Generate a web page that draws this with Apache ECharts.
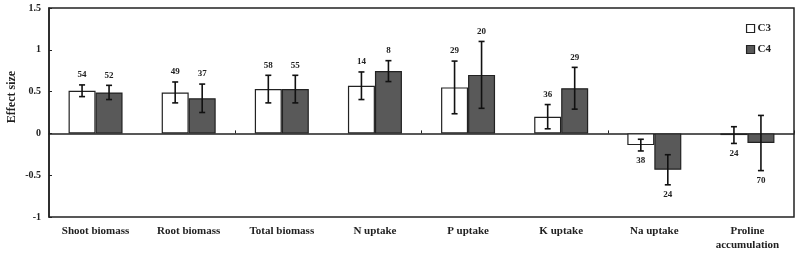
<!DOCTYPE html>
<html>
<head>
<meta charset="utf-8">
<script src="https://cdn.jsdelivr.net/npm/echarts@6/dist/echarts.min.js"></script>
<style>
  html, body { margin: 0; padding: 0; background: #fff; }
  #chart { width: 800px; height: 253px; }
</style>
</head>
<body>
<div id="chart"></div>
<script>
const categories = ['Shoot biomass', 'Root biomass', 'Total biomass', 'N uptake', 'P uptake', 'K uptake', 'Na uptake', 'Proline\naccumulation'];
const c3Values = [0.51, 0.49, 0.53, 0.57, 0.55, 0.20, -0.14, -0.02];
const c3Errors = [0.07, 0.125, 0.165, 0.165, 0.315, 0.145, 0.07, 0.10];
const c3Counts = [54, 49, 58, 14, 29, 36, 38, 24];
const c4Values = [0.49, 0.42, 0.53, 0.745, 0.70, 0.54, -0.435, -0.115];
const c4Errors = [0.085, 0.17, 0.165, 0.125, 0.40, 0.25, 0.18, 0.33];
const c4Counts = [52, 37, 55, 8, 20, 29, 24, 70];
const yTicks = [-1, -0.5, 0, 0.5, 1, 1.5];

const serif = '"Liberation Serif", "DejaVu Serif", serif';
const barW = 27;

// error bar + n label, drawn off the same axes as the bars
const errorSeries = (values, errors, counts, offset) => ({
    type: 'custom',
    xAxisIndex: 0,
    silent: true,
    z: 5,
    data: values.map((v, i) => [i, v, errors[i], counts[i]]),
    renderItem: (params, api) => {
        const i = api.value(0), v = api.value(1), e = api.value(2), n = api.value(3);
        const top = api.coord([i, v + e]);
        const bot = api.coord([i, v - e]);
        const x = top[0] + offset;
        const cap = 3;
        const style = { stroke: '#111', lineWidth: 1.6 };
        const labelY = v >= 0 ? top[1] - 10 : bot[1] + 10;
        return {
            type: 'group',
            children: [
                { type: 'line', shape: { x1: x, y1: top[1], x2: x, y2: bot[1] }, style },
                { type: 'line', shape: { x1: x - cap, y1: top[1], x2: x + cap, y2: top[1] }, style },
                { type: 'line', shape: { x1: x - cap, y1: bot[1], x2: x + cap, y2: bot[1] }, style },
                {
                    type: 'text',
                    style: {
                        x: x, y: labelY, text: String(n),
                        align: 'center', verticalAlign: 'middle',
                        font: 'bold 9px ' + serif, fill: '#222'
                    }
                }
            ]
        };
    }
});

const chart = echarts.init(document.getElementById('chart'));
chart.setOption({
    animation: false,
    grid: { left: 49, right: 6, top: 8, bottom: 36, show: true, borderColor: '#222', borderWidth: 1.5 },
    legend: {
        orient: 'vertical',
        right: 24,
        top: 18,
        icon: 'rect',
        itemWidth: 8,
        itemHeight: 8,
        itemGap: 10,
        itemStyle: { borderColor: '#222', borderWidth: 1.2 },
        textStyle: { fontFamily: serif, fontWeight: 'bold', fontSize: 11, color: '#222', padding: [0, 0, 0, -2] },
        data: ['C3', 'C4']
    },
    graphic: [{
        type: 'text',
        x: 12, y: 97,
        rotation: Math.PI / 2,
        style: { text: 'Effect size', font: 'bold 12px ' + serif, fill: '#222', align: 'center', verticalAlign: 'middle' }
    }],
    xAxis: [{
        type: 'category',
        data: categories,
        position: 'bottom',
        axisLine: { onZero: false, show: false },
        axisTick: { show: false },
        axisLabel: { margin: 7, fontFamily: serif, fontWeight: 'bold', fontSize: 11, color: '#222', lineHeight: 14, interval: 0 }
    }, {
        type: 'category',
        data: categories,
        position: 'bottom',
        axisLine: { onZero: true, lineStyle: { color: '#222', width: 1.5 } },
        axisTick: { show: true, inside: true, length: 3, lineStyle: { color: '#222' } },
        axisLabel: { show: false }
    }],
    yAxis: {
        type: 'value',
        min: -1,
        max: 1.5,
        interval: 0.5,
        splitLine: { show: false },
        axisLine: { show: true, lineStyle: { color: '#222', width: 1.5 } },
        axisTick: { show: true, inside: true, length: 3, lineStyle: { color: '#222' } },
        axisLabel: {
            margin: 8,
            fontFamily: serif, fontWeight: 'bold', fontSize: 10, color: '#222',
            formatter: v => yTicks.includes(v) ? String(v) : ''
        }
    },
    series: [
        {
            name: 'C3', type: 'bar', data: c3Values, barWidth: barW, barGap: '0%',
            itemStyle: { color: '#ffffff', borderColor: '#222', borderWidth: 1.2 }
        },
        {
            name: 'C4', type: 'bar', data: c4Values, barWidth: barW, barGap: '0%',
            itemStyle: { color: '#595959', borderColor: '#222', borderWidth: 1.2 }
        },
        errorSeries(c3Values, c3Errors, c3Counts, -barW / 2),
        errorSeries(c4Values, c4Errors, c4Counts, barW / 2)
    ]
});
</script>
</body>
</html>
